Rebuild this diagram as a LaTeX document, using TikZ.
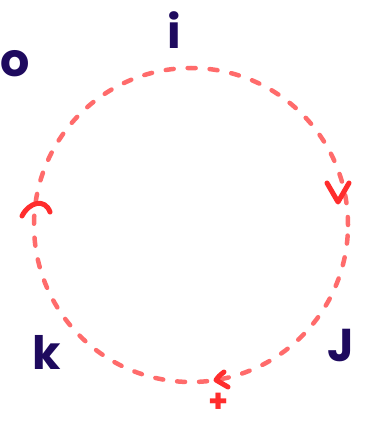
\documentclass[tikz,border=0pt]{standalone}
\usepackage{fontspec}
\setmainfont{Poppins}
\definecolor{ringred}{HTML}{FF6B6B}
\definecolor{tipred}{HTML}{FF2D2D}
\definecolor{ink}{HTML}{1E0A5E}
\begin{document}
\begin{tikzpicture}[x=1pt,y=-1pt,
  ring/.style={draw=ringred,line width=4.5pt,line cap=round,dash pattern=on 8pt off 14pt},
  tip/.style={draw=tipred,line width=5pt,line cap=round,line join=round},
  lbl/.style={text=ink,font=\fontsize{46}{46}\selectfont\bfseries,inner sep=0pt},
  plus/.style={text=tipred,font=\fontsize{32}{32}\selectfont\bfseries,inner sep=0pt}]
\useasboundingbox (0,0) rectangle (376,425);
\coordinate (c) at (191,225);
\draw[ring] (c) circle[radius=157pt];
% arrowheads
\draw[tip] (22,216) .. controls (29,202) and (45,198) .. (50,212);
\draw[tip] (327,183) -- (338,202) -- (349,183);
\draw[tip] (224,372) .. controls (219,376) .. (216,380) -- (228,387);
% labels
\node[lbl] (i) at (174,30) {i};
\node[lbl] (o) at (15,64) {o};
\node[lbl] (k) at (47,352) {k};
\node[lbl] (J) at (341,346) {J};
\node[plus] (p) at (219,403) {+};
\end{tikzpicture}
\end{document}
